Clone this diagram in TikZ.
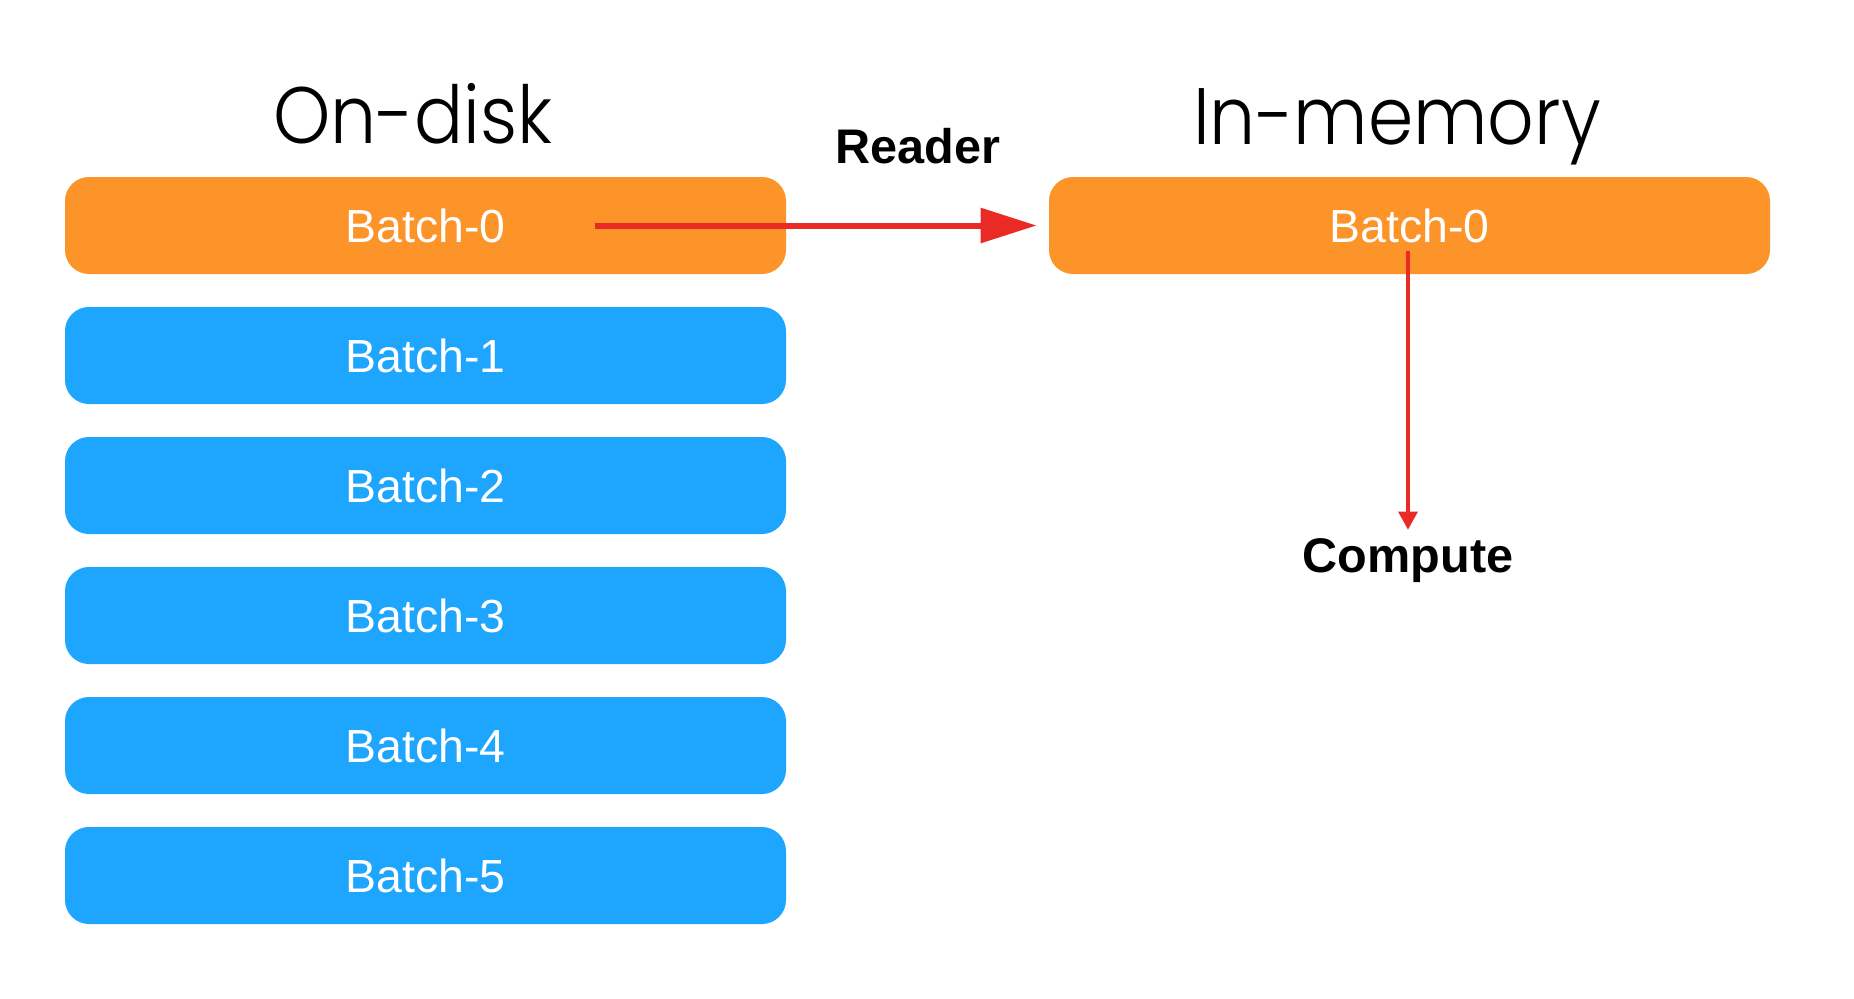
\documentclass[tikz,border=0pt]{standalone}
\usepackage{fontspec}
\setmainfont{Liberation Sans}
\newfontfamily\titlefont{Poppins Light}
\usetikzlibrary{arrows.meta}
\definecolor{batchorange}{RGB}{252,148,41}
\definecolor{batchblue}{RGB}{30,165,254}
\definecolor{flowred}{RGB}{234,42,36}
\newcommand{\narrow}[1]{\scalebox{0.91}[1]{#1}}

\begin{document}
\begin{tikzpicture}[x=0.5pt,y=-0.5pt,
  batch/.style={rectangle, rounded corners=12pt, minimum width=360.5pt,
    minimum height=48.5pt, inner sep=0pt, text=white,
    font=\fontsize{23.2pt}{26pt}\selectfont},
  title/.style={anchor=base, inner sep=0pt, font=\titlefont\fontsize{40pt}{44pt}\selectfont},
  label/.style={anchor=base, inner sep=0pt, font=\bfseries\fontsize{24.3pt}{28pt}\selectfont},
  flow/.style={draw=flowred, line width=3pt, -{Triangle[length=28pt,width=17pt]}}]
\useasboundingbox (0,0) rectangle (1854,998);

\node[title] (ondisk) at (413,143) {\narrow{On-disk}};
\node[title] (inmem) at (1397,144) {\narrow{In-memory}};

\node[batch, fill=batchorange] (b0) at (425.5,225.5) {Batch-0};
\foreach \i in {1,...,5}
  \node[batch, fill=batchblue] (b\i) at (425.5,225.5+130*\i) {Batch-\i};

\node[batch, fill=batchorange] (mem) at (1409.5,225.5) {Batch-0};

\node[label] (reader) at (918,163) {Reader};
\node[label] (compute) at (1408,572) {Compute};

\coordinate (rd) at (595,225.5);
\coordinate (cp) at (1408,251);
\draw[flow, shorten >=6pt] (rd) -- (mem.west);
\draw[flow, line width=1.6pt, -{Triangle[length=9pt,width=9.5pt]}, shorten >=4pt] (cp) -- (compute.north);
\end{tikzpicture}
\end{document}
